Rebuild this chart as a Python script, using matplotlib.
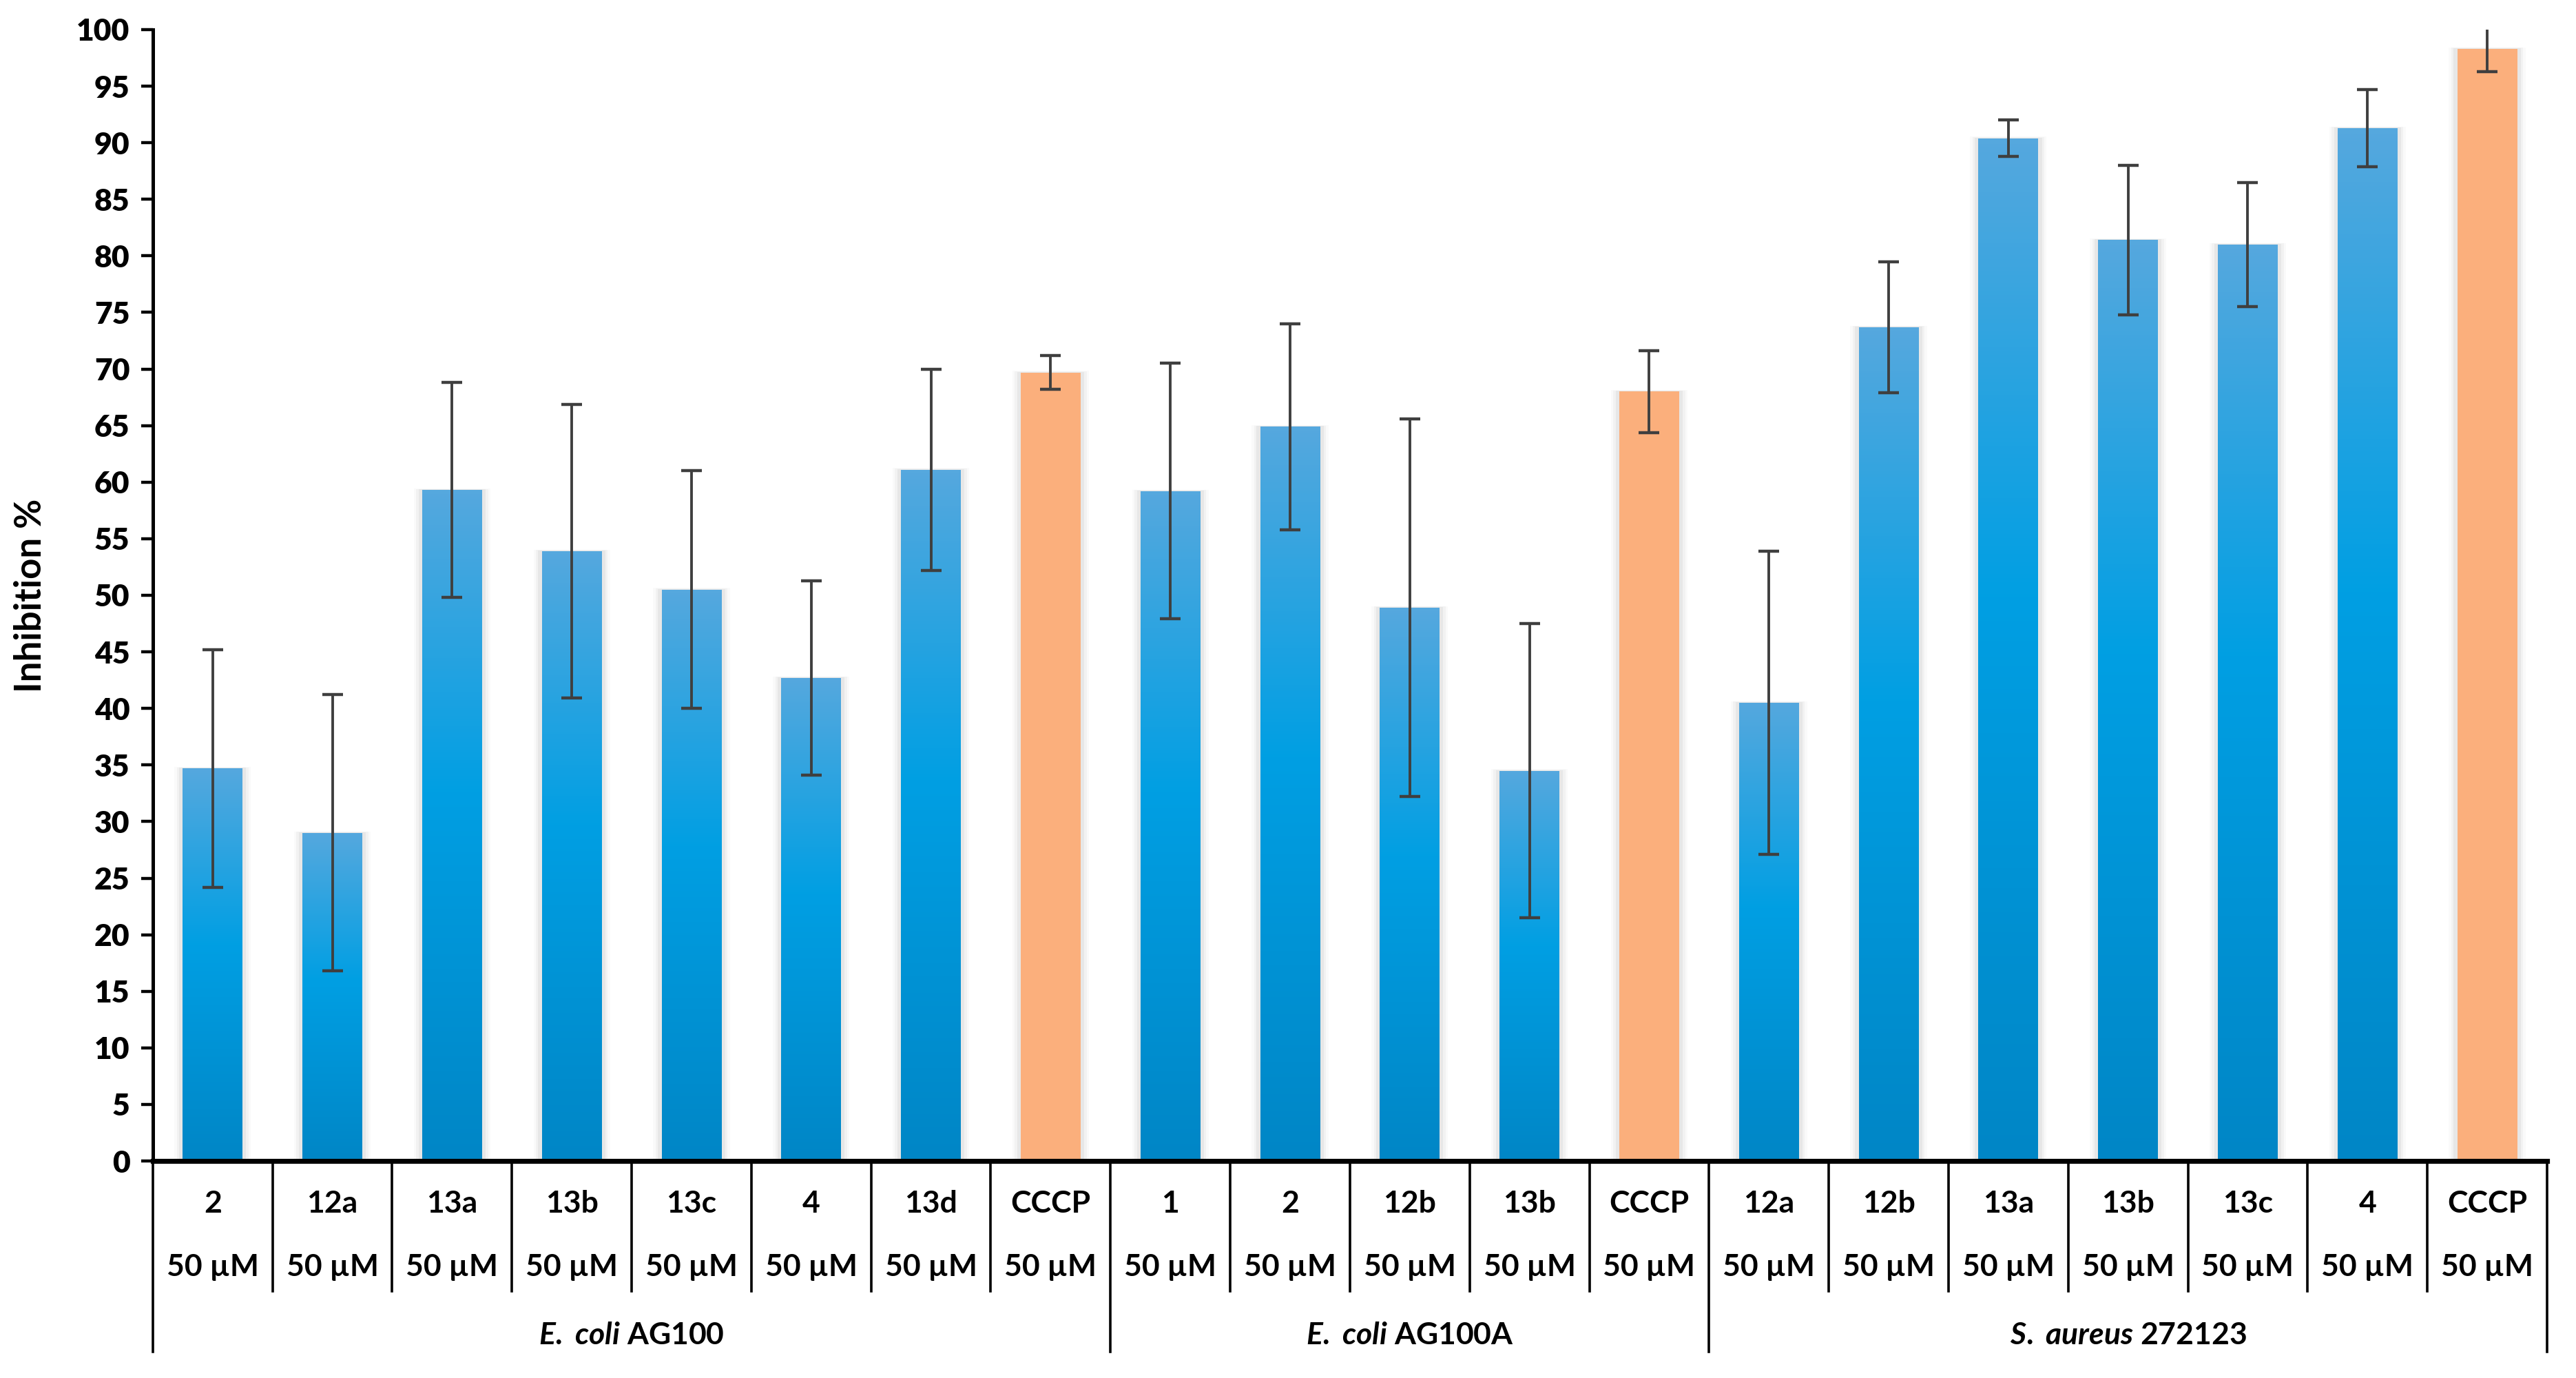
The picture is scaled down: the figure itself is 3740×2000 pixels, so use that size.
import numpy as np
import matplotlib
matplotlib.use("Agg")
import matplotlib.pyplot as plt
from matplotlib.colors import LinearSegmentedColormap
from matplotlib.patches import Rectangle

plt.rcParams['font.family'] = ['Lato', 'DejaVu Sans']
plt.rcParams['mathtext.fontset'] = 'custom'
plt.rcParams['mathtext.it'] = 'Lato:bold:italic'
plt.rcParams['mathtext.rm'] = 'Lato:bold'
plt.rcParams['mathtext.bf'] = 'Lato:bold'

# ---------------- data ----------------
group_labels = [r"$\it{E.}$ $\it{coli}$ AG100", r"$\it{E.}$ $\it{coli}$ AG100A",
                r"$\it{S.}$ $\it{aureus}$ 272123"]
compounds_ag100 = ["2", "12a", "13a", "13b", "13c", "4", "13d", "CCCP"]
compounds_ag100a = ["1", "2", "12b", "13b", "CCCP"]
compounds_saureus = ["12a", "12b", "13a", "13b", "13c", "4", "CCCP"]
conc_label = "50 µM"
values_ag100 = [34.7, 29.0, 59.3, 53.9, 50.5, 42.7, 61.1, 69.7]
values_ag100a = [59.2, 64.9, 48.9, 34.5, 68.0]
values_saureus = [40.5, 73.7, 90.4, 81.4, 81.0, 91.3, 98.3]
errors_ag100 = [10.5, 12.2, 9.5, 13.0, 10.5, 8.6, 8.9, 1.5]
errors_ag100a = [11.3, 9.1, 16.7, 13.0, 3.6]
errors_saureus = [13.4, 5.8, 1.6, 6.6, 5.5, 3.4, 2.0]
y_ticks = list(range(0, 101, 5))

compound_groups = [compounds_ag100, compounds_ag100a, compounds_saureus]
value_groups = [values_ag100, values_ag100a, values_saureus]
error_groups = [errors_ag100, errors_ag100a, errors_saureus]

compounds = sum(compound_groups, [])
values = np.array(sum(value_groups, []))
errors = np.array(sum(error_groups, []))
x = np.arange(len(compounds))

# ---------------- figure ----------------
fig = plt.figure(figsize=(18.705, 10), dpi=200)
ax = fig.add_axes([0.0593, 0.1575, 0.9885 - 0.0593, 0.9785 - 0.1575])

orange = "#FBAF7C"
blue_cmap = LinearSegmentedColormap.from_list(
    "bluegrad", [(0.0, "#0086C6"), (0.55, "#009FE3"), (1.0, "#55A8DE")])
grad = np.linspace(0, 1, 256).reshape(-1, 1)

bar_width = 0.5
is_ctrl = [c == "CCCP" for c in compounds]
bars = ax.bar(x, values, width=bar_width,
              color=[orange if c else "#009FE3" for c in is_ctrl],
              edgecolor="none", zorder=3)

# soft shadows (mostly at the sides)
for b in bars:
    bx, by = b.get_x(), b.get_y()
    bw, bh = b.get_width(), b.get_height()
    for k, a in zip([0.07, 0.05, 0.03], [0.04, 0.06, 0.09]):
        ax.add_patch(Rectangle((bx - k, by), bw + 2 * k, bh + k * 2,
                               facecolor="#808080", alpha=a, edgecolor="none",
                               zorder=2))

# gradient fills for blue bars
for b, ctrl in zip(bars, is_ctrl):
    if ctrl:
        continue
    bx, bw, bh = b.get_x(), b.get_width(), b.get_height()
    im = ax.imshow(grad, cmap=blue_cmap, aspect="auto", origin="lower",
                   extent=[bx, bx + bw, 0, bh], zorder=4, interpolation="bicubic")
    im.set_clip_path(b)

ax.errorbar(x, values, yerr=errors, fmt="none", ecolor="#3F3F3F",
            elinewidth=1.4, capsize=5.5, capthick=1.6, zorder=6)

ax.set_xlim(-0.5, len(compounds) - 0.5)
ax.set_ylim(0, 100)
ax.set_yticks(y_ticks)
ax.set_yticklabels([str(t) for t in y_ticks], fontsize=16, fontweight="heavy")
ax.tick_params(axis="y", direction="out", length=6, width=1.6, pad=6)
ax.set_xticks([])

for s in ["top", "right"]:
    ax.spines[s].set_visible(False)
ax.spines["left"].set_linewidth(1.8)
ax.spines["bottom"].set_linewidth(2.6)
ax.spines["left"].set_zorder(7)
ax.spines["bottom"].set_zorder(7)

fig.text(0.012, (0.1575 + 0.9785) / 2, "Inhibition %", rotation=90,
         fontsize=19, fontweight="bold", ha="center", va="center")

# ---------------- two-level category axis ----------------
tr = ax.get_xaxis_transform()
y_short, y_long = -0.115, -0.169
y_row1, y_row2, y_grp = -0.038, -0.094, -0.154

for i, c in enumerate(compounds):
    ax.text(i, y_row1, c, transform=tr, ha="center", va="center",
            fontsize=16, fontweight="bold")
    ax.text(i, y_row2, conc_label, transform=tr, ha="center", va="center",
            fontsize=16, fontweight="bold")

boundaries = np.cumsum([0] + [len(g) for g in compound_groups]) - 0.5
for i in range(len(compounds) + 1):
    xb = i - 0.5
    ylow = y_long if xb in boundaries else y_short
    ax.plot([xb, xb], [0, ylow], transform=tr, color="black", lw=1.3,
            clip_on=False, zorder=7)

for gi, lbl in enumerate(group_labels):
    cx = (boundaries[gi] + boundaries[gi + 1]) / 2
    ax.text(cx, y_grp, lbl, transform=tr, ha="center", va="center",
            fontsize=16, fontweight="bold")

fig.savefig("out.png", dpi=200, facecolor="white")
